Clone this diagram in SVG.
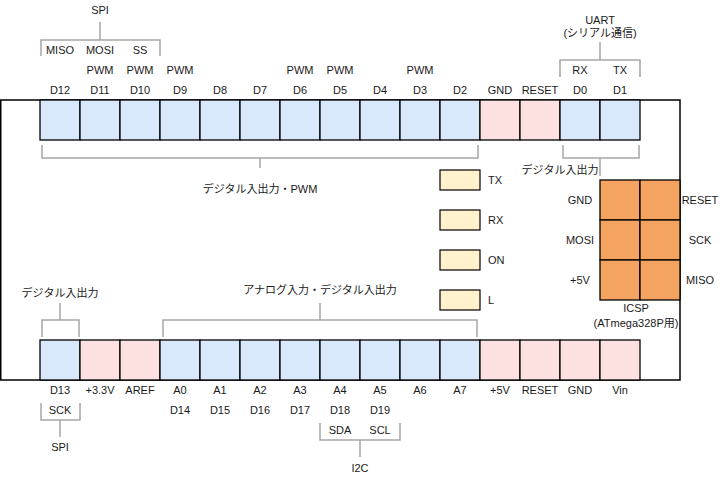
<svg xmlns="http://www.w3.org/2000/svg" width="726" height="479" viewBox="0 0 726 479">
<style>
text{font-family:"Liberation Sans",Arial,"Noto Sans CJK JP",sans-serif;font-size:11px;fill:#1a1a1a;text-anchor:middle;dominant-baseline:central}
.l{text-anchor:start}
.pin{stroke:#000;stroke-width:1.3}
.b{fill:#dae8fc}
.r{fill:#fde1e1}
.o{fill:#f4a460}
.y{fill:#fff2cc;stroke:#000;stroke-width:1.2}
.br{fill:none;stroke:#a6a6a6;stroke-width:1.5}
</style>
<rect id="board" x="0.75" y="100" width="679.25" height="280" fill="#fff" stroke="#000" stroke-width="1.5"/>
<g id="top-pins">
<rect class="pin b" x="40" y="100" width="40" height="40"/><rect class="pin b" x="80" y="100" width="40" height="40"/><rect class="pin b" x="120" y="100" width="40" height="40"/><rect class="pin b" x="160" y="100" width="40" height="40"/><rect class="pin b" x="200" y="100" width="40" height="40"/><rect class="pin b" x="240" y="100" width="40" height="40"/><rect class="pin b" x="280" y="100" width="40" height="40"/><rect class="pin b" x="320" y="100" width="40" height="40"/><rect class="pin b" x="360" y="100" width="40" height="40"/><rect class="pin b" x="400" y="100" width="40" height="40"/><rect class="pin b" x="440" y="100" width="40" height="40"/><rect class="pin r" x="480" y="100" width="40" height="40"/><rect class="pin r" x="520" y="100" width="40" height="40"/><rect class="pin b" x="560" y="100" width="40" height="40"/><rect class="pin b" x="600" y="100" width="40" height="40"/>
<text x="60" y="90">D12</text><text x="100" y="90">D11</text><text x="140" y="90">D10</text><text x="180" y="90">D9</text><text x="220" y="90">D8</text><text x="260" y="90">D7</text><text x="300" y="90">D6</text><text x="340" y="90">D5</text><text x="380" y="90">D4</text><text x="420" y="90">D3</text><text x="460" y="90">D2</text><text x="500" y="90">GND</text><text x="540" y="90">RESET</text><text x="580" y="90">D0</text><text x="620" y="90">D1</text>
<text x="100" y="70">PWM</text><text x="140" y="70">PWM</text><text x="180" y="70">PWM</text><text x="300" y="70">PWM</text><text x="340" y="70">PWM</text><text x="420" y="70">PWM</text>
<text x="60" y="50">MISO</text><text x="100" y="50">MOSI</text><text x="140" y="50">SS</text>
<text x="580" y="70">RX</text><text x="620" y="70">TX</text>
</g>
<g id="bottom-pins">
<rect class="pin b" x="40" y="340" width="40" height="40"/><rect class="pin r" x="80" y="340" width="40" height="40"/><rect class="pin r" x="120" y="340" width="40" height="40"/><rect class="pin b" x="160" y="340" width="40" height="40"/><rect class="pin b" x="200" y="340" width="40" height="40"/><rect class="pin b" x="240" y="340" width="40" height="40"/><rect class="pin b" x="280" y="340" width="40" height="40"/><rect class="pin b" x="320" y="340" width="40" height="40"/><rect class="pin b" x="360" y="340" width="40" height="40"/><rect class="pin b" x="400" y="340" width="40" height="40"/><rect class="pin b" x="440" y="340" width="40" height="40"/><rect class="pin r" x="480" y="340" width="40" height="40"/><rect class="pin r" x="520" y="340" width="40" height="40"/><rect class="pin r" x="560" y="340" width="40" height="40"/><rect class="pin r" x="600" y="340" width="40" height="40"/>
<text x="60" y="390">D13</text><text x="100" y="390">+3.3V</text><text x="140" y="390">AREF</text><text x="180" y="390">A0</text><text x="220" y="390">A1</text><text x="260" y="390">A2</text><text x="300" y="390">A3</text><text x="340" y="390">A4</text><text x="380" y="390">A5</text><text x="420" y="390">A6</text><text x="460" y="390">A7</text><text x="500" y="390">+5V</text><text x="540" y="390">RESET</text><text x="580" y="390">GND</text><text x="620" y="390">Vin</text>
<text x="60" y="410">SCK</text><text x="180" y="410">D14</text><text x="220" y="410">D15</text><text x="260" y="410">D16</text><text x="300" y="410">D17</text><text x="340" y="410">D18</text><text x="380" y="410">D19</text>
<text x="340" y="430">SDA</text><text x="380" y="430">SCL</text>
</g>
<g id="icsp">
<rect class="pin o" x="600" y="180" width="40" height="40"/><rect class="pin o" x="640" y="180" width="40" height="40"/><rect class="pin o" x="600" y="220" width="40" height="40"/><rect class="pin o" x="640" y="220" width="40" height="40"/><rect class="pin o" x="600" y="260" width="40" height="40"/><rect class="pin o" x="640" y="260" width="40" height="40"/>
<text x="580" y="200">GND</text><text x="580" y="240">MOSI</text><text x="580" y="280">+5V</text>
<text x="700" y="200">RESET</text><text x="700" y="240">SCK</text><text x="700" y="280">MISO</text>
<text x="636" y="308">ICSP</text><text x="636" y="323">(ATmega328P用)</text>
</g>
<g id="leds">
<rect class="y" x="440" y="170" width="40" height="20"/><text class="l" x="488" y="180">TX</text>
<rect class="y" x="440" y="210" width="40" height="20"/><text class="l" x="488" y="220">RX</text>
<rect class="y" x="440" y="250" width="40" height="20"/><text class="l" x="488" y="260">ON</text>
<rect class="y" x="440" y="290" width="40" height="20"/><text class="l" x="488" y="300">L</text>
</g>
<g id="connectors">
<path class="br" d="M100,22V40M41,56V40H160V56"/>
<path class="br" d="M600,42V60M560,77V60H640V77"/>
<path class="br" d="M42,145V158H478V145M260,158V168"/>
<path class="br" d="M563,145V158H639V145M600,158V176"/>
<path class="br" d="M60,303V320M42,337V320H79V337"/>
<path class="br" d="M320,303V320M163,337V320H477V337"/>
<path class="br" d="M41,403V420H80V403M60,420V437"/>
<path class="br" d="M320,423V440H400V423M360,440V457"/>
</g>
<g id="group-labels">
<text x="100" y="10">SPI</text>
<text x="600" y="20">UART</text><text x="600" y="33">(シリアル通信)</text>
<text x="260" y="189">デジタル入出力・PWM</text>
<text x="560" y="170">デジタル入出力</text>
<text x="60" y="293">デジタル入出力</text>
<text x="320" y="290">アナログ入力・デジタル入出力</text>
<text x="60" y="447">SPI</text>
<text x="360" y="468">I2C</text>
</g>
</svg>
